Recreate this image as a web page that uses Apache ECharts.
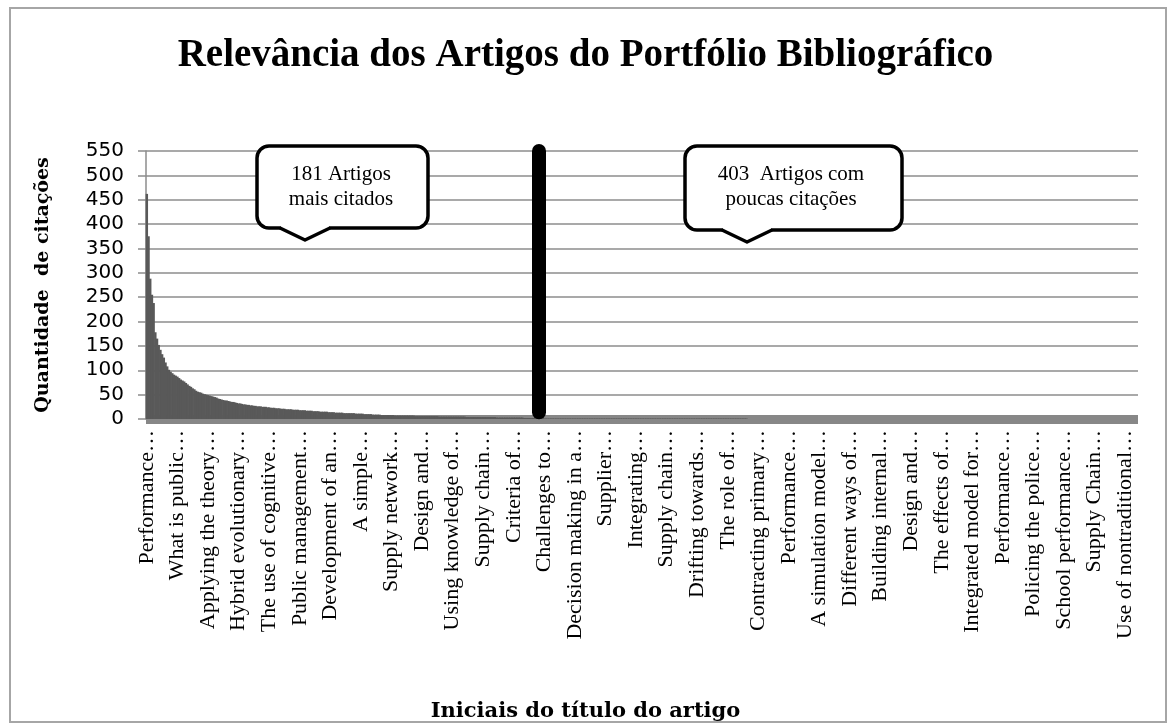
<!DOCTYPE html>
<html>
<head>
<meta charset="utf-8">
<script src="https://cdn.jsdelivr.net/npm/echarts@6/dist/echarts.min.js"></script>
<style>
  html, body { margin: 0; padding: 0; background: #fff; }
  #chart { width: 1171px; height: 726px; }
</style>
</head>
<body>
<div id="chart"></div>
<script>
// rótulos mostrados no eixo (um a cada 18 artigos)
var rotulos = ["Performance…", "What is public…", "Applying the theory…", "Hybrid evolutionary…",
  "The use of cognitive…", "Public management…", "Development of an…", "A simple…",
  "Supply network…", "Design and…", "Using knowledge of…", "Supply chain…", "Criteria of…",
  "Challenges to…", "Decision making in a…", "Supplier…", "Integrating…", "Supply chain…",
  "Drifting towards…", "The role of…", "Contracting primary…", "Performance…",
  "A simulation model…", "Different ways of…", "Building internal…", "Design and…",
  "The effects of…", "Integrated model for…", "Performance…", "Policing the police…",
  "School performance…", "Supply Chain…", "Use of nontraditional…"];

// citações dos artigos mais citados (em ordem)
var topo = [462, 375, 288, 255, 238, 178, 165, 152, 142, 133, 126, 116, 108, 101, 97, 94, 91, 89, 87, 84,
  81, 79, 77, 74, 71, 68, 66, 63, 61, 58, 56, 55, 54, 52, 51, 50, 49, 48, 47, 46,
  45, 44, 42, 41, 40, 39, 38, 38, 37, 36, 35, 35, 34, 33, 32, 32, 31, 30, 30, 29,
  29, 28, 28, 27, 27, 26, 26, 26, 25, 25, 25, 24, 24, 23, 23, 23, 22, 22, 22, 21,
  21, 21, 20, 20, 20, 20, 19, 19, 19, 19, 18, 18, 18, 18, 17, 17, 17, 17, 16, 16,
  16, 16, 15, 15, 15, 15, 15, 14, 14, 14, 14, 13, 13, 13, 13, 13, 12, 12, 12, 12];

// cauda: valor de citações e quantos artigos seguidos têm esse valor
var caudaValor = [12, 11, 10, 9, 8, 7, 6, 5, 4, 3, 2, 1, 0];
var caudaQtd   = [3, 5, 5, 5, 8, 12, 14, 16, 18, 16, 12, 120, 230];

var yTicks = [0, 550, 50]; // min, max, intervalo
var corte = 231;           // posição da linha divisória

var valores = topo.slice();
caudaValor.forEach(function (v, k) {
  for (var j = 0; j < caudaQtd[k]; j++) valores.push(v);
});
var categorias = valores.map(function (v, i) {
  return i % 18 === 0 ? rotulos[i / 18] : '';
});

var serif = 'Liberation Serif';
var serifLargo = 'DejaVu Serif';
var chart = echarts.init(document.getElementById('chart'));

// balão de texto: retângulo arredondado + bico para baixo
function balao(x0, y0, x1, y1, px, py, texto, tx) {
  return [
    {
      type: 'rect', z: 100,
      shape: { x: x0, y: y0, width: x1 - x0, height: y1 - y0, r: 12 },
      style: { fill: '#fff', stroke: '#000', lineWidth: 3.5 }
    },
    {
      type: 'polygon', z: 101,
      shape: { points: [[px - 24, y1 - 3], [px + 24, y1 - 3], [px + 24, y1], [px, py], [px - 24, y1]] },
      style: { fill: '#fff' }
    },
    {
      type: 'polyline', z: 102,
      shape: { points: [[px - 25, y1], [px, py], [px + 25, y1]] },
      style: { fill: null, stroke: '#000', lineWidth: 3.5, lineJoin: 'round' }
    },
    {
      type: 'text', z: 103, x: tx, y: y0 + 16,
      style: { text: texto, fontFamily: serif, fontSize: 21, lineHeight: 25,
        fill: '#000', textAlign: 'center' }
    }
  ];
}

var option = {
  animation: false,
  title: [
    {
      text: 'Relevância dos Artigos do Portfólio Bibliográfico',
      left: 'center', top: 31,
      textStyle: { fontFamily: serif, fontWeight: 'bold', fontSize: 39, color: '#000' }
    },
    {
      text: 'Iniciais do título do artigo',
      left: 'center', top: 696,
      textStyle: { fontFamily: serifLargo, fontWeight: 'bold', fontSize: 21, color: '#000' }
    }
  ],
  grid: { left: 146, right: 33, top: 151, bottom: 307, containLabel: false },
  xAxis: {
    type: 'category',
    data: categorias,
    offset: 5,
    axisLine: { lineStyle: { color: '#878787', width: 9, cap: 'butt' } },
    axisTick: { show: false },
    axisLabel: {
      interval: 17,
      rotate: 90,
      margin: 6,
      fontFamily: serif,
      fontSize: 22,
      color: '#000'
    }
  },
  yAxis: {
    type: 'value',
    min: yTicks[0], max: yTicks[1], interval: yTicks[2],
    name: 'Quantidade  de citações',
    nameLocation: 'middle',
    nameGap: 93,
    nameTextStyle: { fontFamily: serifLargo, fontWeight: 'bold', fontSize: 19, color: '#000' },
    axisLine: { show: true, lineStyle: { color: '#8c8c8c', width: 1.5 } },
    axisTick: { show: true, length: 8, lineStyle: { color: '#8c8c8c', width: 1.5 } },
    axisLabel: { fontFamily: 'DejaVu Sans', fontSize: 20, color: '#000', margin: 22 },
    splitLine: { lineStyle: { color: '#8c8c8c', width: 1.5 } }
  },
  series: [{
    type: 'bar',
    data: valores,
    barWidth: 2.4,
    clip: false,
    itemStyle: { color: '#595959' },
    markLine: {
      silent: true,
      symbol: 'none',
      label: { show: false },
      lineStyle: { color: '#000', width: 14, type: 'solid', cap: 'round' },
      data: [[{ coord: [corte, 550] }, { coord: [corte, 14] }]]
    }
  }],
  graphic: [
    {
      type: 'rect', z: -10,
      shape: { x: 10, y: 8, width: 1156, height: 714 },
      style: { fill: 'none', stroke: '#a6a6a6', lineWidth: 2 }
    }
  ].concat(
    balao(257, 146, 428, 228, 305, 240, '181 Artigos\nmais citados', 341),
    balao(685, 146, 902, 230, 747, 242, '403  Artigos com\npoucas citações', 791)
  )
};
chart.setOption(option);
</script>
</body>
</html>
